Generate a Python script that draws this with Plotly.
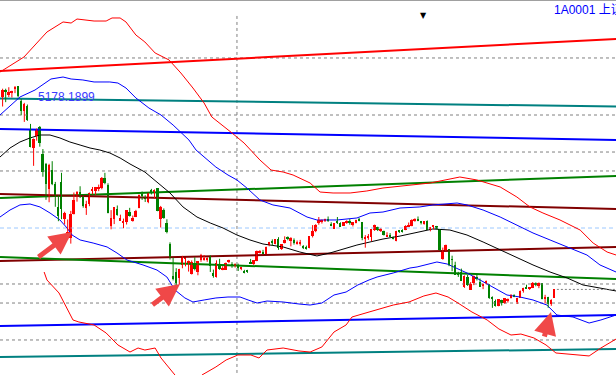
import plotly.graph_objects as go

# ---------------- candle data (trading-day index 0..178) ----------------
opens = [5049,5122,5077,5102,5144,5174,5004,4890,4952,4690,
         4471,4604,4711,4399,4289,3997,4214,4058,3793,4075,
         3652,3468,3432,3707,3927,3966,3910,3776,3831,3979,
         3977,4008,4013,4123,4042,3573,3659,3775,3634,3614,
         3621,3740,3633,3680,3786,3944,3898,3850,3987,3955,
         4008,3652,3754,3609,3373,3004,3043,2978,3125,3203,
         3157,3027,3149,3054,3191,3190,3190,3237,3042,2987,
         3129,3079,3073,3162,3140,3113,3134,3085,3056,3055,
         3164,3144,3180,3269,3272,3259,3355,3401,3374,3427,
         3310,3385,3445,3407,3417,3380,3379,3326,3326,3320,
         3456,3514,3614,3621,3640,3656,3600,3542,3636,3606,
         3580,3617,3630,3595,3614,3659,3616,3433,3442,3451,
         3525,3558,3529,3519,3460,3464,3441,3403,3514,3518,
         3530,3568,3577,3642,3653,3620,3602,3636,3528,3566,
         3571,3536,3196,3291,3309,3194,3131,3032,3051,2873,
         2986,2846,2918,2990,2934,2885,2924,2903,2765,2716,
         2663,2730,2693,2711,2745,2788,2700,2752,2829,2880,
         2856,2868,2928,2892,2917,2736,2762,2686,2751]
highs = [5147,5147,5164,5124,5178,5176,5029,4985,4966,4744,
         4577,4691,4720,4456,4297,4287,4317,4080,3927,4184,
         3738,3650,3748,3959,3975,4030,3924,3864,3958,4022,
         4022,4049,4136,4184,4064,3757,3789,3810,3705,3660,
         3757,3783,3695,3760,3936,3970,3928,3955,4000,3994,
         4010,3805,3776,3652,3388,3214,3092,3085,3233,3207,
         3180,3181,3217,3174,3256,3243,3218,3239,3076,3182,
         3200,3115,3156,3189,3161,3147,3144,3104,3073,3073,
         3198,3184,3294,3299,3302,3339,3393,3422,3426,3447,
         3369,3457,3456,3447,3433,3409,3416,3356,3350,3459,
         3585,3596,3678,3650,3659,3684,3618,3607,3678,3617,
         3617,3640,3654,3617,3647,3668,3621,3470,3483,3538,
         3591,3567,3549,3522,3503,3494,3456,3520,3526,3537,
         3584,3615,3652,3663,3684,3633,3629,3639,3564,3573,
         3576,3538,3328,3362,3309,3235,3166,3050,3087,3009,
         3015,2933,3008,3016,2974,2916,2951,2911,2769,2733,
         2739,2731,2749,2745,2796,2793,2752,2837,2868,2903,
         2872,2933,2929,2929,2917,2787,2764,2736,2853]
lows = [4943,4993,5052,5047,5096,5048,4842,4767,4779,4476,
        4264,4552,4483,4139,3875,3847,4043,3795,3630,3653,
        3593,3421,3373,3707,3854,3895,3785,3702,3802,3938,
        3932,3974,3995,4053,3720,3537,3597,3693,3634,3549,
        3592,3683,3625,3677,3778,3874,3850,3836,3936,3888,
        3744,3558,3658,3491,3191,2952,2850,2906,3091,3113,
        3053,3020,3066,3011,3165,3178,3165,3049,2983,2985,
        3073,3069,3073,3150,3097,3099,3060,3069,3033,3039,
        3141,3130,3172,3261,3253,3253,3343,3351,3366,3302,
        3302,3375,3412,3342,3362,3362,3350,3311,3305,3320,
        3444,3504,3590,3603,3621,3622,3573,3541,3598,3566,
        3575,3600,3590,3569,3605,3629,3412,3327,3417,3400,
        3519,3517,3507,3466,3459,3450,3422,3400,3496,3501,
        3527,3563,3572,3624,3630,3593,3591,3532,3514,3538,
        3538,3295,3189,3288,3115,3057,3016,2992,2949,2867,
        2889,2844,2898,2951,2880,2852,2908,2741,2638,2653,
        2656,2664,2684,2698,2745,2760,2682,2752,2812,2859,
        2844,2864,2885,2863,2735,2688,2638,2661,2751]
closes = [5131,5113,5106,5121,5166,5062,4887,4967,4785,4478,
          4576,4690,4527,4192,4053,4277,4053,3912,3687,3775,
          3727,3507,3710,3878,3970,3924,3805,3823,3957,3992,
          4017,4026,4124,4070,3725,3663,3789,3705,3664,3622,
          3756,3695,3661,3744,3928,3927,3887,3955,3965,3993,
          3748,3794,3664,3507,3209,2965,2927,3084,3232,3206,
          3166,3160,3080,3170,3243,3197,3200,3114,3005,3152,
          3086,3097,3156,3186,3115,3142,3092,3100,3038,3053,
          3143,3183,3287,3293,3262,3338,3391,3386,3425,3320,
          3368,3412,3429,3434,3375,3387,3382,3325,3316,3459,
          3522,3590,3646,3640,3650,3632,3580,3606,3604,3568,
          3617,3630,3610,3616,3647,3635,3436,3445,3456,3536,
          3584,3524,3536,3470,3472,3455,3434,3520,3510,3516,
          3580,3578,3642,3651,3636,3612,3627,3533,3563,3572,
          3539,3296,3287,3361,3125,3186,3016,3022,2949,3007,
          2900,2913,3008,2976,2880,2916,2938,2749,2735,2655,
          2737,2688,2749,2739,2781,2763,2746,2836,2867,2862,
          2860,2927,2903,2928,2741,2767,2687,2733,2849]
days = list(range(len(closes)))

# ---------------- indicator curves (day index, price) ----------------
red_up_x = [-0.84,6.9,14.3,19.5,22.1,24,29.5,33.4,35.3,37.9,39.8,43,45.9,49.2,53.7,57.5,61.4,65,67.5,70.1,
            74,77.9,80.8,83,86.6,90.5,93.7,99.2,102.4,106.6,112.1,117.5,122.7,128.2,137.9,147.5,153,160.5,
            165.9,170.1,174.3,179.8,186.3,190.5,195,197.9]
red_up_y = [5338,5510,5796,5911,5899,5945,5922,5922,5957,5957,5911,5762,5682,5556,5476,5327,5155,4983,4823,4754,
            4640,4525,4411,4331,4216,4193,4159,4067,3964,3953,3953,3976,4010,4033,4067,4136,4102,4022,
            3907,3793,3724,3644,3529,3380,3277,3243]
red_dn_x = [13.4,14.3,18.2,22.7,24.6,29.5,33.4,37.2,41.1,43.7,45.9,49.2,51.1,55.6,58.2,62.4,64.3,68.8,72.1,
            75.9,80.1,82.7,85.3,90.5,95.6,99.2,103,106.9,110.8,112.7,118.2,126,131.1,135.9,139.8,143.7,
            146.9,151.4,156.3,160.1,164,167.2,171.4,175.3,178.5,181.7,189.2,193,197.9]
red_dn_y = [3048,2957,2808,2499,2476,2442,2350,2213,2132,2178,2155,2178,2064,1869,1697,1697,1869,1961,2041,
            2098,2098,2064,2155,2178,2144,2132,2190,2361,2442,2533,2590,2670,2705,2774,2808,2762,
            2693,2590,2499,2396,2327,2338,2293,2213,2121,2109,2087,2178,2281]
blue_up_x = [-0.84,5.6,10.45,15.6,19.5,22.1,25.9,29.5,34.6,37.2,39.8,43,47.2,51.1,55,57.5,60.1,62.4,65,68.8,
             72.7,75.6,78.8,83,87.2,92.7,98.2,101.4,107.9,114.3,118.5,122.7,128.2,134.6,138.8,146.6,149.8,
             155,160.5,165.9,171.1,176.6,182.1,188.5,192.7,197.9]
blue_up_y = [4846,5052,5132,5258,5281,5258,5247,5224,5224,5212,5155,5041,4926,4846,4731,4651,4560,4445,4365,4250,
             4159,4102,4010,3873,3816,3781,3678,3644,3644,3667,3724,3735,3781,3793,3816,3838,3816,
             3758,3678,3586,3495,3415,3335,3243,3129,3048]
blue_dn_x = [-0.84,2.39,5.6,8.84,12.06,15.3,18.5,20.8,22.4,25,29.2,33.7,36.9,40.1,45.3,49.8,53,55.6,58.8,61.4,
             65,68.8,72.7,76.6,79.2,82.1,85.3,90.5,95.6,99.2,103,106.9,110.8,114.6,118.2,120.8,126,131.4,
             133.7,140.1,143.4,149.8,154,158.2,162.7,166.9,171.1,175.6,178.8,184,189.2,193,197.9]
blue_dn_y = [3678,3758,3816,3827,3793,3724,3644,3552,3472,3415,3380,3335,3266,3186,3129,3071,2991,2842,2751,2705,
             2728,2751,2762,2762,2728,2693,2716,2705,2682,2670,2693,2785,2819,2900,2957,2991,3037,3094,
             3106,3163,3140,3037,2957,2877,2785,2762,2728,2670,2556,2533,2464,2499,2556]
ma_x = [-0.84,2.39,5.6,8.84,12.06,15.3,18.5,21.7,25,28.2,31.4,34.6,37.9,41.1,45.9,49.8,54,58.2,62.7,67,
        71.1,75.6,79.8,84,90.5,95.9,101.4,105.6,109.8,114.3,118.5,122.7,128.2,133.7,138.8,144.3,149.8,
        155,160.5,165.9,171.1,176.6,182.1,187.2,192.7,197.9]
ma_y = [4365,4468,4537,4583,4617,4617,4583,4537,4502,4468,4445,4411,4354,4285,4193,4079,3953,3793,3678,3609,
        3552,3472,3415,3369,3335,3277,3232,3266,3312,3357,3392,3426,3460,3506,3541,3529,3472,
        3392,3300,3209,3129,3048,2980,2900,2865,2831]

# ---------------- straight trend lines: (start, end) prices ----------------
line_days = [-0.84, 197.9]
trend_lines = [
    ([5350, 5716], "#ff0000", 2),
    ([5035, 4943], "#008080", 2),
    ([4686, 4560], "#0000ff", 2),
    ([3896, 4148], "#008000", 2),
    ([3941, 3770], "#800000", 2),
    ([3174, 3335], "#800000", 2),
    ([3220, 2968], "#008000", 2),
    ([2430, 2556], "#0000ff", 2),
    ([2075, 2167], "#008080", 2),
]
grid_levels = [5499, 4846, 4422, 4205, 2911, 2693, 2270]
blue_level = 3552
vline_day = 75.6
vline_top = 5980
high_label = "5178.1899"
title_text = "1A0001 上证指数"

X_RANGE = [-0.84, 197.87]
Y_RANGE = [1869, 6162.7]

fig = go.Figure()

# dashed grid levels
for lv in grid_levels:
    fig.add_trace(go.Scatter(x=X_RANGE, y=[lv, lv], mode="lines",
                             line=dict(color="#808080", width=1, dash="3px,3px"), hoverinfo="skip"))
fig.add_trace(go.Scatter(x=X_RANGE, y=[blue_level, blue_level], mode="lines",
                         line=dict(color="#9cc8ff", width=1, dash="4px,3px"), hoverinfo="skip"))
fig.add_trace(go.Scatter(x=[vline_day, vline_day], y=[vline_top, Y_RANGE[0]], mode="lines",
                         line=dict(color="#808080", width=1, dash="3px,3px"), hoverinfo="skip"))

# trend lines
for ys, col, w in trend_lines:
    fig.add_trace(go.Scatter(x=line_days, y=ys, mode="lines",
                             line=dict(color=col, width=w), hoverinfo="skip"))

# curves
for xs, ys, col in [(red_up_x, red_up_y, "#ff0000"), (red_dn_x, red_dn_y, "#ff0000"),
                    (blue_up_x, blue_up_y, "#0000ff"), (blue_dn_x, blue_dn_y, "#0000ff"),
                    (ma_x, ma_y, "#000000")]:
    fig.add_trace(go.Scatter(x=xs, y=ys, mode="lines",
                             line=dict(color=col, width=1), hoverinfo="skip"))

# last price dotted line
fig.add_trace(go.Scatter(x=[days[-1] + 0.8, X_RANGE[1]], y=[closes[-1], closes[-1]], mode="lines",
                         line=dict(color="#808080", width=1, dash="2px,2px"), hoverinfo="skip"))

# candles: wicks
up_color, dn_color = "#ff0000", "#008000"
for want_up, col in [(True, up_color), (False, dn_color)]:
    wx, wy = [], []
    for d, o, h, l, c in zip(days, opens, highs, lows, closes):
        if (c >= o) == want_up:
            wx += [d, d, None]
            wy += [l, h, None]
    fig.add_trace(go.Scatter(x=wx, y=wy, mode="lines", line=dict(color=col, width=1), hoverinfo="skip"))

# candles: bodies
bases = [min(o, c) for o, c in zip(opens, closes)]
heights = [max(abs(c - o), 10) for o, c in zip(opens, closes)]
colors = [up_color if c >= o else dn_color for o, c in zip(opens, closes)]
fig.add_trace(go.Bar(x=days, y=heights, base=bases, width=0.62,
                     marker=dict(color=colors, line=dict(width=0)), hoverinfo="skip"))

# annotations
annots = [
    dict(x=36 / 616, y=1 - 97 / 375, xref="paper", yref="paper", text=high_label, showarrow=False,
         xanchor="left", yanchor="middle", font=dict(family="Liberation Sans, Arial", size=12, color="#3a3aff")),
    dict(x=552 / 616, y=1 - 9 / 375, xref="paper", yref="paper", text=title_text, showarrow=False,
         xanchor="left", yanchor="middle", font=dict(family="Liberation Sans, Noto Sans CJK SC", size=12, color="#0000ff")),
    dict(x=423 / 616, y=1 - 16 / 375, xref="paper", yref="paper", text="▼", showarrow=False,
         xanchor="center", yanchor="middle", font=dict(family="DejaVu Sans", size=8, color="#000000")),
]
for (tx, ty), (sx, sy) in [((72, 232), (37, 258)), ((180, 284), (151, 306)), ((551, 312), (544, 338))]:
    annots.append(dict(x=tx / 616, y=1 - ty / 375, xref="paper", yref="paper", text="", showarrow=True,
                       ax=sx - tx, ay=sy - ty, arrowhead=2, arrowsize=0.9, arrowwidth=5,
                       arrowcolor="#f04848", standoff=0, startstandoff=0))

fig.update_layout(
    width=616, height=375, autosize=False,
    margin=dict(l=0, r=0, t=0, b=0, pad=0, autoexpand=False),
    paper_bgcolor="white", plot_bgcolor="white",
    showlegend=False, barmode="overlay", bargap=0,
    xaxis=dict(range=X_RANGE, visible=False, fixedrange=True),
    yaxis=dict(range=Y_RANGE, visible=False, fixedrange=True),
    annotations=annots,
    shapes=[dict(type="line", xref="paper", yref="paper", x0=0, x1=1, y0=1, y1=1,
                 line=dict(color="#a0a0a0", width=2))],
)

fig.write_html("out.html", config={"displayModeBar": False},
               post_script="document.body.style.margin='0';document.body.style.overflow='hidden';")
